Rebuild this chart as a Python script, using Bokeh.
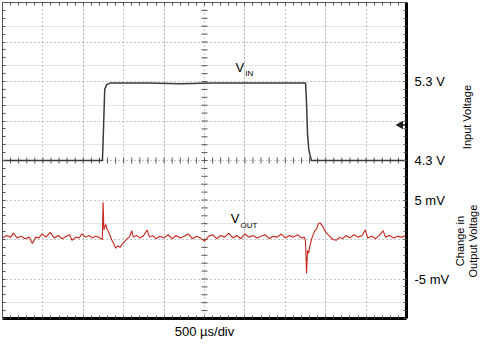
import numpy as np
from bokeh.plotting import figure
from bokeh.layouts import row
from bokeh.models import Range1d, LinearAxis, FixedTicker, Grid, Label, CustomJSTickFormatter
from bokeh.embed import file_html
from bokeh.resources import INLINE

FONT = "Liberation Sans"

# ---- data (time in µs, 500 µs/div) ----
vin_t = [0, 600, 1237, 1250, 1265, 1290, 1330, 1800, 2200, 2600, 3000, 3400, 3751, 3762, 3775, 3790, 3805, 3824, 4300, 5000]
vin_v = [4.30, 4.30, 4.30, 4.70, 5.20, 5.26, 5.28, 5.28, 5.27, 5.28, 5.28, 5.28, 5.28, 5.05, 4.64, 4.45, 4.37, 4.30, 4.30, 4.30]

vout_t = [0, 50, 100, 135, 180, 230, 280, 330, 370, 410, 450, 490, 540, 590, 640, 690, 740, 790, 830, 860,
          910, 950, 980, 1030, 1070, 1110, 1150, 1190, 1220, 1235, 1245, 1255, 1265, 1278, 1295, 1320, 1350,
          1380, 1400, 1430, 1455, 1480, 1510, 1540, 1570, 1600, 1620, 1660, 1700, 1740, 1790, 1820, 1860,
          1900, 1950, 2000, 2050, 2100, 2150, 2200, 2250, 2300, 2350, 2400, 2450, 2500, 2550, 2600, 2650,
          2700, 2750, 2800, 2850, 2900, 2950, 3000, 3050, 3100, 3150, 3200, 3250, 3300, 3350, 3400, 3450,
          3500, 3550, 3600, 3650, 3700, 3735, 3750, 3763, 3775, 3790, 3800, 3830, 3860, 3890, 3910, 3930,
          3960, 3990, 4020, 4060, 4090, 4130, 4170, 4210, 4250, 4300, 4350, 4400, 4450, 4490, 4520, 4570,
          4620, 4660, 4710, 4740, 4790, 4840, 4890, 4940, 5000]
vout_mv = [0.2, 0.5, 0.3, 0.8, 0.2, 0.4, 0.1, 0.3, -0.5, 0.3, 0.2, 0.7, 0.3, 0.9, 0.2, 0.5, 0.1, 0.4, 0.6, -0.1,
           0.3, 0.2, 0.7, 0.3, 0.5, 0.2, 0.4, 0.3, 0.1, 0.0, 4.7, 1.2, 1.6, 1.9, 1.3, 0.8, 0.0,
           -0.6, -1.1, -0.8, -1.0, -0.6, -0.3, 0.1, 0.3, 1.1, 0.3, 0.5, 0.2, 0.4, 1.2, 0.3, 0.5,
           0.1, 0.4, 0.2, 0.6, 0.1, 0.5, 0.2, 0.4, 0.7, 0.1, 0.4, 0.2, -0.2, 0.4, 0.6, 0.1,
           0.5, 0.3, 0.8, 0.2, 0.5, 0.1, 0.7, 0.3, 0.5, 0.2, 0.4, 0.6, 0.1, 0.4, 0.3, 0.7,
           0.2, 0.5, 0.3, 0.6, 0.2, 0.3, -0.2, -4.3, -1.4, -1.7, -1.0, 0.2, 1.0, 1.4, 2.0, 2.1,
           1.7, 1.1, 0.7, 0.3, 0.0, -0.1, 0.3, 0.1, 0.5, 0.2, 0.6, 0.3, 0.5, 1.2, 0.2, 0.4,
           0.1, 0.5, 1.1, 0.3, 0.5, 0.2, 0.4, 0.3, 0.5]

# ---- scale / labels ----
x_div = list(range(0, 5001, 500))
x_minor = list(range(0, 5001, 100))
y_div = [round(v, 2) for v in np.arange(2.3, 6.31, 0.5)]
y_minor = [round(v, 2) for v in np.arange(2.3, 6.301, 0.1)]
right_ticks = [2.8, 3.8, 4.3, 5.3]
right_names = ["-5 mV", "5 mV", "4.3 V", "5.3 V"]
center_t = 2500
center_v = 4.3
trigger_v = 4.75

p = figure(frame_width=404, frame_height=316, output_backend="svg", toolbar_location=None,
           x_range=Range1d(0, 5000), y_range=Range1d(2.3, 6.3),
           x_axis_location=None, y_axis_location=None,
           min_border_left=2, min_border_top=2, min_border_right=40, min_border_bottom=22)
p.extra_y_ranges = {"out": Range1d(-10, 30)}
p.outline_line_color = None

# grid
p.add_layout(Grid(dimension=0, ticker=FixedTicker(ticks=x_div[1:-1]),
                  grid_line_color="#8c8c8c", grid_line_dash="1 3"))
p.add_layout(Grid(dimension=1, ticker=FixedTicker(ticks=y_div[1:-1]),
                  grid_line_color="#8c8c8c", grid_line_dash="1 3"))


def edge_axis(ticks, minor, color, width, **kw):
    return LinearAxis(ticker=FixedTicker(ticks=ticks, minor_ticks=minor),
                      major_tick_in=3, major_tick_out=0, minor_tick_in=3, minor_tick_out=0,
                      major_tick_line_color="#555", minor_tick_line_color="#555",
                      axis_line_color=color, axis_line_width=width, **kw)


left = edge_axis([], y_minor, "#555", 1, major_label_standoff=0)
top = edge_axis([], x_minor, "#555", 1, major_label_standoff=0)
bottom = edge_axis([], x_minor, "black", 3, major_label_standoff=0,
                   axis_label="500 µs/div", axis_label_text_font=FONT, axis_label_text_font_size="13px",
                   axis_label_text_font_style="normal", axis_label_text_color="black", axis_label_standoff=5)
right = edge_axis(right_ticks, y_minor, "black", 3,
                  major_label_text_font=FONT, major_label_text_font_size="13px",
                  major_label_text_color="black", major_label_standoff=8)
right.formatter = CustomJSTickFormatter(args=dict(tvals=right_ticks, tnames=right_names), code="""
    for (let i = 0; i < tvals.length; i++) { if (Math.abs(tvals[i] - tick) < 1e-6) return tnames[i]; }
    return '';
""")
p.add_layout(left, "left")
p.add_layout(top, "above")
p.add_layout(bottom, "below")
p.add_layout(right, "right")

# center cross ticks
p.scatter(x=[center_t] * len(y_minor), y=y_minor, marker="dash", size=6, line_color="#555")
p.scatter(x=x_minor, y=[center_v] * len(x_minor), marker="dash", angle=np.pi / 2, size=6, line_color="#555")

# traces
p.line(vin_t, vin_v, line_color="#3a3a3a", line_width=1.5)
p.line(vout_t, vout_mv, y_range_name="out", line_color="#c8281e", line_width=1.1)

# trigger arrow
p.scatter(x=[4925], y=[trigger_v], marker="triangle", angle=np.pi / 2, size=7,
          fill_color="#222", line_color="#222")
p.scatter(x=[4965], y=[trigger_v], marker="dash", size=5, line_color="#222", line_width=1.5)

# trace labels
p.add_layout(Label(x=2885, y=5.48, text="V", text_font=FONT, text_font_size="13px",
                   text_color="black", text_baseline="middle"))
p.add_layout(Label(x=3005, y=5.40, text="IN", text_font=FONT, text_font_size="8px",
                   text_color="black", text_baseline="middle"))
p.add_layout(Label(x=2825, y=3.56, text="V", text_font=FONT, text_font_size="13px",
                   text_color="black", text_baseline="middle"))
p.add_layout(Label(x=2945, y=3.48, text="OUT", text_font=FONT, text_font_size="8px",
                   text_color="black", text_baseline="middle"))

# side titles (separate narrow panel sharing the voltage scale)
q = figure(frame_width=28, frame_height=316, output_backend="svg", toolbar_location=None,
           x_range=Range1d(0, 28), y_range=p.y_range,
           x_axis_location=None, y_axis_location=None,
           min_border_left=0, min_border_right=0, min_border_top=2, min_border_bottom=22)
q.outline_line_color = None
q.xgrid.visible = False
q.ygrid.visible = False
q.add_layout(Label(x=14, y=4.85, text="Input Voltage", angle=np.pi / 2, text_color="black",
                   text_font=FONT, text_font_size="11px", text_align="center", text_baseline="middle"))
q.add_layout(Label(x=7, y=3.28, text="Change in", angle=np.pi / 2, text_color="black",
                   text_font=FONT, text_font_size="11px", text_align="center", text_baseline="middle"))
q.add_layout(Label(x=20, y=3.28, text="Output Voltage", angle=np.pi / 2, text_color="black",
                   text_font=FONT, text_font_size="11px", text_align="center", text_baseline="middle"))

layout = row(p, q)
open("out.html", "w").write(file_html(layout, INLINE))
